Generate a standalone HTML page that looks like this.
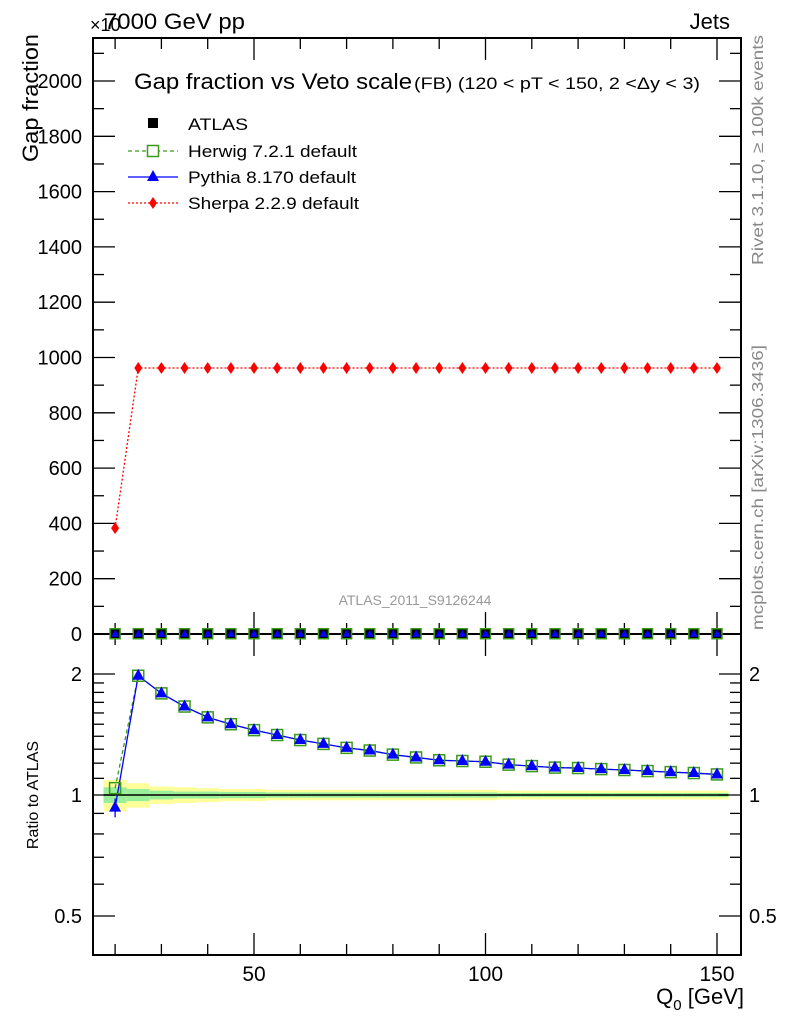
<!DOCTYPE html>
<html><head><meta charset="utf-8">
<style>
body{margin:0;background:#fff;}
svg{display:block;font-family:"Liberation Sans",Arial,sans-serif;}
</style></head>
<body>
<svg id="c" width="786" height="1024" xmlns="http://www.w3.org/2000/svg">
<rect width="786" height="1024" fill="#fff"/>
<g id="g"></g>
</svg>
<script>
const qValues=[20,25,30,35,40,45,50,55,60,65,70,75,80,85,90,95,100,105,110,115,120,125,130,135,140,145,150];
const sherpaValues=[383,962,962,962,962,962,962,962,962,962,962,962,962,962,962,962,962,962,962,962,962,962,962,962,962,962,962];
const atlasValues=[1,1,1,1,1,1,1,1,1,1,1,1,1,1,1,1,1,1,1,1,1,1,1,1,1,1,1];
const herwigRatio=[1.04,1.98,1.79,1.66,1.56,1.50,1.45,1.41,1.37,1.34,1.31,1.29,1.26,1.24,1.22,1.215,1.21,1.19,1.18,1.17,1.167,1.16,1.154,1.147,1.14,1.134,1.125];
const pythiaRatio=[0.93,1.98,1.79,1.66,1.56,1.50,1.45,1.41,1.37,1.34,1.31,1.29,1.26,1.24,1.22,1.215,1.21,1.19,1.18,1.17,1.167,1.16,1.154,1.147,1.14,1.134,1.125];
const yellowBand=[0.09,0.07,0.05,0.045,0.04,0.035,0.035,0.03,0.03,0.03,0.03,0.03,0.03,0.03,0.03,0.03,0.03,0.025,0.025,0.025,0.025,0.025,0.025,0.025,0.025,0.025,0.025];
const greenBand=[0.045,0.035,0.025,0.02,0.02,0.018,0.018,0.015,0.015,0.015,0.015,0.015,0.015,0.015,0.015,0.015,0.015,0.012,0.012,0.012,0.012,0.012,0.012,0.012,0.012,0.012,0.012];
const mainTicks=[0,200,400,600,800,1000,1200,1400,1600,1800,2000];
const ratioTicks=[0.5,1,2];
const xTicks=[50,100,150];

const L=93,R=741,T1=38,B1=634,T2=634,B2=955;
const X=v=>254+(v-50)*4.63;
const Y1=v=>634-v*0.2765;
const Y2=v=>795-Math.log2(v)*121;
const g=document.getElementById('g');
const NS='http://www.w3.org/2000/svg';
function el(tag,at,txt){const e=document.createElementNS(NS,tag);for(const k in at)e.setAttribute(k,at[k]);if(txt!==undefined)e.textContent=txt;g.appendChild(e);return e;}

for(let i=0;i<qValues.length;i++){
  const x0=i==0?X(17.5):X(qValues[i]-2.5), x1=i==qValues.length-1?X(152.5):X(qValues[i]+2.5);
  let e=el('rect',{x:x0,y:Y2(1+yellowBand[i]),width:x1-x0,height:Y2(1-yellowBand[i])-Y2(1+yellowBand[i]),fill:'#ffff99'});
  
  e=el('rect',{x:x0,y:Y2(1+greenBand[i]),width:x1-x0,height:Y2(1-greenBand[i])-Y2(1+greenBand[i]),fill:'#99ee99'});
  
}
let ln=el('line',{x1:X(17.5),x2:X(152.5),y1:Y2(1),y2:Y2(1),stroke:'#000','stroke-width':1.5});


for(const [t,b,n] of [[T1,B1,'main-frame'],[T2,B2,'ratio-frame']]){
  const f=el('rect',{x:L,y:t,width:R-L,height:b-t,fill:'none',stroke:'#000','stroke-width':2});
  
}
for(let v=20;v<=150;v+=10){
  const big=v%50==0,h=big?22:11;
  for(const [t,b] of [[T1,B1],[T2,B2]]){
    el('line',{x1:X(v),x2:X(v),y1:b,y2:b-h,stroke:'#000','stroke-width':1.3});
    el('line',{x1:X(v),x2:X(v),y1:t,y2:t+h,stroke:'#000','stroke-width':1.3});
  }
}
xTicks.forEach(v=>{const e=el('text',{x:X(v),y:981,'font-size':21,'text-anchor':'middle'},String(v));});
for(let v=0;v<=2150;v+=100){
  const big=v%200==0,h=big?22:11;
  el('line',{x1:L,x2:L+h,y1:Y1(v),y2:Y1(v),stroke:'#000','stroke-width':1.3});
  el('line',{x1:R,x2:R-h,y1:Y1(v),y2:Y1(v),stroke:'#000','stroke-width':1.3});
}
mainTicks.forEach(v=>{const e=el('text',{x:82,y:Y1(v)+7,'font-size':20,'text-anchor':'end'},String(v));});
const rmin=[0.4,0.5,0.6,0.7,0.8,0.9,1,1.1,1.2,1.3,1.4,1.5,1.6,1.7,1.8,1.9,2];
rmin.forEach(v=>{const big=(v==0.5||v==1||v==2),h=big?22:11;
  el('line',{x1:L,x2:L+h,y1:Y2(v),y2:Y2(v),stroke:'#000','stroke-width':1.3});
  el('line',{x1:R,x2:R-h,y1:Y2(v),y2:Y2(v),stroke:'#000','stroke-width':1.3});});
ratioTicks.forEach(v=>{
  let e=el('text',{x:82,y:Y2(v)+7,'font-size':20,'text-anchor':'end'},String(v));
  e=el('text',{x:749,y:Y2(v)+7,'font-size':20},String(v));
});

function poly(xs,ys,col,dash,name){const p=el('polyline',{points:xs.map((x,i)=>x+','+ys[i]).join(' '),fill:'none',stroke:col,'stroke-width':1.3,'stroke-dasharray':dash||''});}
poly(qValues.map(X),sherpaValues.map(Y1),'#f00','2,2','sherpa-line');
qValues.forEach((q,i)=>{const x=X(q),y=Y1(sherpaValues[i]);const e=el('polygon',{points:`${x},${y-6} ${x+4},${y} ${x},${y+6} ${x-4},${y}`,fill:'#f00'});});
qValues.forEach((q,i)=>{const x=X(q),y=Y1(atlasValues[i]);
  let e=el('rect',{x:x-5,y:y-5,width:10,height:10,fill:'#000'});
  e=el('rect',{x:x-5,y:y-5,width:10,height:10,fill:'none',stroke:'#3a9a1a','stroke-width':1.5});
  e=el('polygon',{points:`${x},${y-4} ${x+4},${y+3} ${x-4},${y+3}`,fill:'#00f'});});

poly(qValues.map(X),herwigRatio.map(Y2),'#3a9a1a','4,3','herwig-ratio-line');
poly(qValues.map(X),pythiaRatio.map(Y2),'#00f','','pythia-ratio-line');
qValues.forEach((q,i)=>{const x=X(q),y=Y2(herwigRatio[i]);const e=el('rect',{x:x-5.5,y:y-5.5,width:11,height:11,fill:'none',stroke:'#3a9a1a','stroke-width':1.5});});
el('line',{x1:X(20),x2:X(20),y1:Y2(0.88),y2:Y2(0.98),stroke:'#00f','stroke-width':1.3});
qValues.forEach((q,i)=>{const x=X(q),y=Y2(pythiaRatio[i]);const e=el('polygon',{points:`${x},${y-7} ${x+6},${y+4} ${x-6},${y+4}`,fill:'#00f'});});

function txt(x,y,s,size,name,extra){const e=el('text',Object.assign({x:x,y:y,'font-size':size},extra||{}),s);return e;}
txt(90,31,'×10',18,'exponent-label');
txt(104,29,'7000 GeV pp',22,'energy-label',{textLength:141,lengthAdjust:'spacingAndGlyphs'});
txt(730,29,'Jets',22,'process-label',{'text-anchor':'end'});
txt(134,89,'Gap fraction vs Veto scale',22,'plot-title',{textLength:278,lengthAdjust:'spacingAndGlyphs'});
txt(414,89,'(FB) (120 < pT < 150, 2 <Δy < 3)',17,'plot-subtitle',{textLength:286,lengthAdjust:'spacingAndGlyphs'});
txt(38,162,'Gap fraction',22,'y-axis-title',{transform:'rotate(-90 38 162)','text-anchor':'start',textLength:128,lengthAdjust:'spacingAndGlyphs'});
txt(38,795,'Ratio to ATLAS',16,'ratio-axis-title',{transform:'rotate(-90 38 795)','text-anchor':'middle'});
txt(415,605,'ATLAS_2011_S9126244',14,'analysis-label',{fill:'#999','text-anchor':'middle'});
txt(763,265,'Rivet 3.1.10, ≥ 100k events',16,'rivet-label',{fill:'#888',transform:'rotate(-90 763 265)',textLength:230,lengthAdjust:'spacingAndGlyphs'});
txt(763,630,'mcplots.cern.ch [arXiv:1306.3436]',16,'mcplots-label',{fill:'#888',transform:'rotate(-90 763 630)',textLength:285,lengthAdjust:'spacingAndGlyphs'});
const xt=el('text',{x:744,y:1004,'font-size':22,'text-anchor':'end'},'');
xt.innerHTML='Q<tspan font-size="15" dy="6">0</tspan><tspan dy="-6"> [GeV]</tspan>';
const legY=[124,151,177,203];
const legN=['ATLAS','Herwig 7.2.1 default','Pythia 8.170 default','Sherpa 2.2.9 default'];
const legW=[60,169,168,171];
legN.forEach((s,i)=>txt(188,legY[i]+6,s,17,'legend-entry-'+i,{textLength:legW[i],lengthAdjust:'spacingAndGlyphs'}));
let e=el('rect',{x:148,y:118,width:10,height:10,fill:'#000'});
el('line',{x1:128,x2:178,y1:151,y2:151,stroke:'#3a9a1a','stroke-width':1.3,'stroke-dasharray':'4,3'});
e=el('rect',{x:147.5,y:145.5,width:11,height:11,fill:'#fff',stroke:'#3a9a1a','stroke-width':1.5});
el('line',{x1:128,x2:178,y1:177,y2:177,stroke:'#00f','stroke-width':1.3});
e=el('polygon',{points:'153,170 159,181 147,181',fill:'#00f'});
el('line',{x1:128,x2:178,y1:203,y2:203,stroke:'#f00','stroke-width':1.3,'stroke-dasharray':'2,2'});
e=el('polygon',{points:'153,197 157,203 153,209 149,203',fill:'#f00'});
</script>
</body></html>
